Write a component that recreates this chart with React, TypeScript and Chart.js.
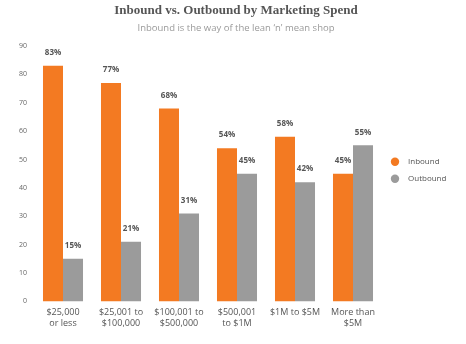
import React, { useEffect, useRef } from "react";
import { Chart, registerables } from "chart.js";

Chart.register(...registerables);

const categories: string[][] = [
  ["$25,000", "or less"],
  ["$25,001 to", "$100,000"],
  ["$100,001 to", "$500,000"],
  ["$500,001", "to $1M"],
  ["$1M to $5M"],
  ["More than", "$5M"],
];
const inbound = [83, 77, 68, 54, 58, 45];
const outbound = [15, 21, 31, 45, 42, 55];
const yTicks = { min: 0, max: 90, step: 10 };

const labelPlugin = {
  id: "barLabels",
  afterDatasetsDraw(chart: any) {
    const ctx = chart.ctx;
    ctx.save();
    ctx.font = "bold 8px 'Open Sans', sans-serif";
    ctx.fillStyle = "#555555";
    ctx.textAlign = "center";
    ctx.textBaseline = "bottom";
    chart.data.datasets.forEach((ds: any, i: number) => {
      const meta = chart.getDatasetMeta(i);
      meta.data.forEach((bar: any, j: number) => {
        ctx.fillText(ds.data[j] + "%", bar.x, bar.y - 9);
      });
    });
    ctx.restore();
  },
};

const legendPlugin = {
  id: "sideLegend",
  afterDraw(chart: any) {
    const ctx = chart.ctx;
    const area = chart.chartArea;
    const cx = area.right + 13;
    const mid = (area.top + area.bottom) / 2 - 3.5;
    ctx.save();
    ctx.font = "8px 'Open Sans', sans-serif";
    ctx.textBaseline = "middle";
    ctx.textAlign = "left";
    chart.data.datasets.forEach((ds: any, i: number) => {
      const y = mid + (i - 0.5) * 17;
      ctx.beginPath();
      ctx.fillStyle = ds.backgroundColor;
      ctx.arc(cx, y, 4.2, 0, Math.PI * 2);
      ctx.fill();
      ctx.fillStyle = "#555555";
      ctx.fillText(ds.label, cx + 13, y);
    });
    ctx.restore();
  },
};

export default function App() {
  const ref = useRef<HTMLCanvasElement>(null);
  useEffect(() => {
    document.body.style.margin = "0";
    const chart = new Chart(ref.current!, {
      type: "bar",
      data: {
        labels: categories,
        datasets: [
          { label: "Inbound", data: inbound, backgroundColor: "#F37A22", borderWidth: 0 },
          { label: "Outbound", data: outbound, backgroundColor: "#9B9B9B", borderWidth: 0 },
        ],
      },
      options: {
        animation: false,
        responsive: false,
        layout: { padding: { left: 6, right: 0, top: 3, bottom: 9 } },
        datasets: { bar: { categoryPercentage: 0.69, barPercentage: 1 } },
        scales: {
          x: {
            grid: { display: false, drawTicks: false },
            border: { display: false },
            ticks: {
              color: "#555555",
              font: { family: "'Open Sans', sans-serif", size: 9, lineHeight: 1.2 },
              maxRotation: 0,
              padding: 6,
            },
          },
          y: {
            min: yTicks.min,
            max: yTicks.max,
            grid: { display: false, drawTicks: false },
            border: { display: false },
            afterFit: (scale: any) => {
              scale.width = 28;
            },
            ticks: {
              stepSize: yTicks.step,
              color: "#666666",
              font: { family: "'Open Sans', sans-serif", size: 7 },
              padding: 7,
            },
          },
          legendSpace: {
            type: "linear",
            position: "right",
            display: true,
            grid: { display: false, drawTicks: false },
            border: { display: false },
            ticks: { display: false },
            afterFit: (scale: any) => {
              scale.width = 84;
            },
          },
        },
        plugins: {
          title: {
            display: true,
            text: "Inbound vs. Outbound by Marketing Spend",
            color: "#555555",
            font: { family: "'Liberation Serif', serif", size: 13, weight: "bold" },
            padding: { top: 0, bottom: 4 },
          },
          subtitle: {
            display: true,
            text: "Inbound is the way of the lean \u2018n\u2019 mean shop",
            color: "#9a9a9a",
            font: { family: "'Open Sans', sans-serif", size: 9.5 },
            padding: { top: 0, bottom: 12 },
          },
          legend: { display: false },
          tooltip: { enabled: false },
        },
      },
      plugins: [labelPlugin, legendPlugin],
    });
    return () => chart.destroy();
  }, []);
  return (
    <div style={{ width: 466, height: 344 }}>
      <canvas ref={ref} width={466} height={344} />
    </div>
  );
}
